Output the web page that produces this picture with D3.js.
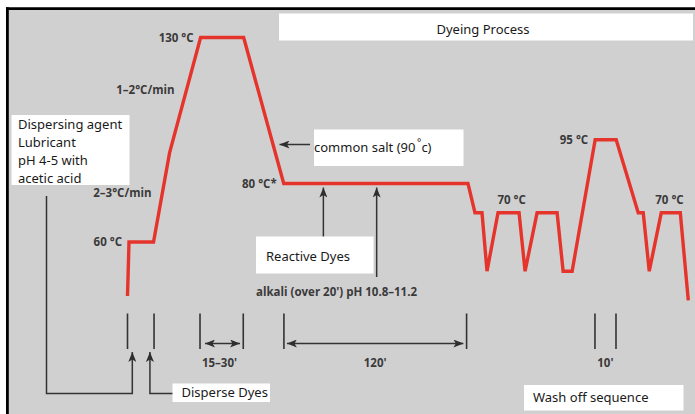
<!DOCTYPE html>
<html>
<head>
<meta charset="utf-8">
<script src="https://cdn.jsdelivr.net/npm/d3@7"></script>
<style>
  html, body { margin: 0; padding: 0; background: #fff; }
  svg { display: block; }
  .box { font-family: "Noto Sans", "Open Sans", sans-serif; font-size: 13px; fill: #1a1a1a; }
  .lbl { font-family: "Open Sans", "Noto Sans", sans-serif; font-size: 11.5px; font-weight: 700; fill: #3a3a3a; }
</style>
</head>
<body>
<script>
// ---- data (time in arbitrary process units, temperature in °C) ----
const times = [0, 0.75, 13, 21, 36.5, 58, 78, 170, 173.5, 177, 179.5, 185, 195.5, 198.5, 204.5, 214.5, 217.5, 222, 233.5, 244, 255, 257.5, 260.5, 266.5, 276, 280];
const temps = [41.5, 60, 60, 90.5, 130, 130, 80, 80, 70, 70, 50, 70, 70, 50, 70, 70, 50, 50, 95, 95, 70, 70, 50, 70, 70, 40];

// temperature labels
const tempLabelText = ["130 °C", "80 °C*", "60 °C", "95 °C", "70 °C", "70 °C"];
const tempLabelTime = [36.5, 78, 0.75, 233.5, 191.8, 270.6];
const tempLabelTemp = [130, 80, 60, 95, 70, 70];
const tempLabelAnchor = ["end", "end", "end", "end", "middle", "middle"];

// rate labels
const rateLabelText = ["1\u20132°C/min", "2\u20133°C/min"];
const rateLabelTime = [23.5, 12];
const rateLabelTemp = [110.5, 75.5];

// vertical time markers at the bottom
const markerTimes = [0, 13.25, 36.2, 57.8, 78.1, 169.3, 233.4, 243.9];
// duration spans
const spanFrom = [38.7, 79.6];
const spanTo = [56.2, 167.7];
const spanText = ["15\u201330'", "120'"];
const tenMinText = "10'";
const tenMinTime = 238.6;

// dosing arrows (time positions)
const disperseArrowTimes = [2.4, 11.2];
const reactiveArrowTimes = [97.8, 124.4];

const W = 695, H = 414;
const svg = d3.select("body").append("svg").attr("width", W).attr("height", H);

const x = d3.scaleLinear().domain([0, 280]).range([127.5, 688.3]);
const y = d3.scaleLinear().domain([60, 130]).range([242, 37.5]);

// defs: arrowheads
const defs = svg.append("defs");
defs.append("marker").attr("id", "ah").attr("viewBox", "0 0 10 8")
  .attr("refX", 10).attr("refY", 4).attr("markerWidth", 10).attr("markerHeight", 8)
  .attr("markerUnits", "userSpaceOnUse").attr("orient", "auto-start-reverse")
  .append("path").attr("d", "M0,0 L10,4 L0,8 L2.5,4 Z").attr("fill", "#2e2e2e");

// background and frame
svg.append("rect").attr("x", 0).attr("y", 0).attr("width", W).attr("height", H).attr("fill", "#ffffff");
svg.append("rect").attr("x", 7.5).attr("y", 8.5).attr("width", W - 7.5).attr("height", H - 8.5).attr("fill", "#d1d0d1");
svg.append("line").attr("x1", 6).attr("x2", W).attr("y1", 8.6).attr("y2", 8.6).attr("stroke", "#000").attr("stroke-width", 2.8);
svg.append("line").attr("x1", 7.4).attr("x2", 7.4).attr("y1", 7.2).attr("y2", H).attr("stroke", "#000").attr("stroke-width", 2.8);

// title box
svg.append("rect").attr("x", 279).attr("y", 13.5).attr("width", 414).attr("height", 27).attr("fill", "#fff");
svg.append("text").attr("class", "box").attr("x", 483).attr("y", 34).attr("text-anchor", "middle").text("Dyeing Process");

// red temperature profile
const pts = times.map((t, i) => [t, temps[i]]);
svg.append("path").datum(pts)
  .attr("d", d3.line().x(d => x(d[0])).y(d => y(d[1])))
  .attr("fill", "none").attr("stroke", "#e5342c").attr("stroke-width", 3.4).attr("stroke-linejoin", "miter");

// temperature labels
svg.append("g").selectAll("text").data(tempLabelText).join("text")
  .attr("class", "lbl")
  .attr("x", (d, i) => x(tempLabelTime[i]) + (tempLabelAnchor[i] === "end" ? -7 : 0))
  .attr("y", (d, i) => y(tempLabelTemp[i]) + (tempLabelAnchor[i] === "end" ? 4 : -9))
  .attr("text-anchor", (d, i) => tempLabelAnchor[i])
  .text(d => d);

svg.append("g").selectAll("text").data(rateLabelText).join("text")
  .attr("class", "lbl")
  .attr("x", (d, i) => x(rateLabelTime[i]))
  .attr("y", (d, i) => y(rateLabelTemp[i]))
  .attr("text-anchor", "end")
  .text(d => d);

// markers
const ink = "#333";
svg.append("g").selectAll("line").data(markerTimes).join("line")
  .attr("x1", d => x(d)).attr("x2", d => x(d)).attr("y1", 313.5).attr("y2", 349)
  .attr("stroke", ink).attr("stroke-width", 1.6);

// spans
svg.append("g").selectAll("line").data(spanFrom).join("line")
  .attr("x1", d => x(d)).attr("x2", (d, i) => x(spanTo[i])).attr("y1", 343.5).attr("y2", 343.5)
  .attr("stroke", ink).attr("stroke-width", 1.4)
  .attr("marker-start", "url(#ah)").attr("marker-end", "url(#ah)");
svg.append("g").selectAll("text").data(spanText).join("text")
  .attr("class", "lbl").attr("text-anchor", "middle")
  .attr("x", (d, i) => (x(spanFrom[i]) + x(spanTo[i])) / 2 + (i === 1 ? 0 : -3))
  .attr("y", 366.5).text(d => d);
svg.append("text").attr("class", "lbl").attr("text-anchor", "middle")
  .attr("x", x(tenMinTime)).attr("y", 366.5).text(tenMinText);

// disperse dye arrows with connectors
const a1 = x(disperseArrowTimes[0]), a2 = x(disperseArrowTimes[1]);
svg.append("path").attr("d", `M46.5,196 V393.5 H${a1} V352`).attr("fill", "none")
  .attr("stroke", ink).attr("stroke-width", 1.5).attr("marker-end", "url(#ah)");
svg.append("path").attr("d", `M173,393.5 H${a2} V352`).attr("fill", "none")
  .attr("stroke", ink).attr("stroke-width", 1.5).attr("marker-end", "url(#ah)");

// reactive dye / alkali arrows
svg.append("line").attr("x1", x(reactiveArrowTimes[0])).attr("x2", x(reactiveArrowTimes[0]))
  .attr("y1", 237).attr("y2", 187.5).attr("stroke", ink).attr("stroke-width", 1.5).attr("marker-end", "url(#ah)");
svg.append("line").attr("x1", x(reactiveArrowTimes[1])).attr("x2", x(reactiveArrowTimes[1]))
  .attr("y1", 277).attr("y2", 187.5).attr("stroke", ink).attr("stroke-width", 1.5).attr("marker-end", "url(#ah)");

// common salt arrow
svg.append("line").attr("x1", 310).attr("x2", 279.5).attr("y1", 144.5).attr("y2", 144.5)
  .attr("stroke", ink).attr("stroke-width", 1.5).attr("marker-end", "url(#ah)");

// white label boxes
function box(x0, y0, w, h) {
  svg.append("rect").attr("x", x0).attr("y", y0).attr("width", w).attr("height", h).attr("fill", "#fff");
}
box(11.5, 115, 118, 70);
const dispLines = ["Dispersing agent", "Lubricant", "pH 4-5 with", "acetic acid"];
svg.append("g").selectAll("text").data(dispLines).join("text")
  .attr("class", "box").attr("x", 18).attr("y", (d, i) => 128.5 + i * 18).text(d => d);

box(314, 129.5, 149.5, 36.5);
const salt = svg.append("text").attr("class", "box").attr("x", 314).attr("y", 152);
salt.append("tspan").text("common salt (90");
salt.append("tspan").attr("dy", -6).attr("font-size", 10).text("\u2009°");
salt.append("tspan").attr("dy", 6).text("c)");

box(256, 236.5, 117.5, 37);
svg.append("text").attr("class", "box").attr("x", 266).attr("y", 261).text("Reactive Dyes");
svg.append("text").attr("class", "lbl").attr("x", 256).attr("y", 295.5).text("alkali (over 20') pH 10.8\u201311.2");

box(172.5, 383.5, 97.5, 18.5);
svg.append("text").attr("class", "box").attr("x", 181.5).attr("y", 397).text("Disperse Dyes");

box(524, 385, 159.5, 25.5);
svg.append("text").attr("class", "box").attr("x", 533).attr("y", 402).text("Wash off sequence");
</script>
</body>
</html>
